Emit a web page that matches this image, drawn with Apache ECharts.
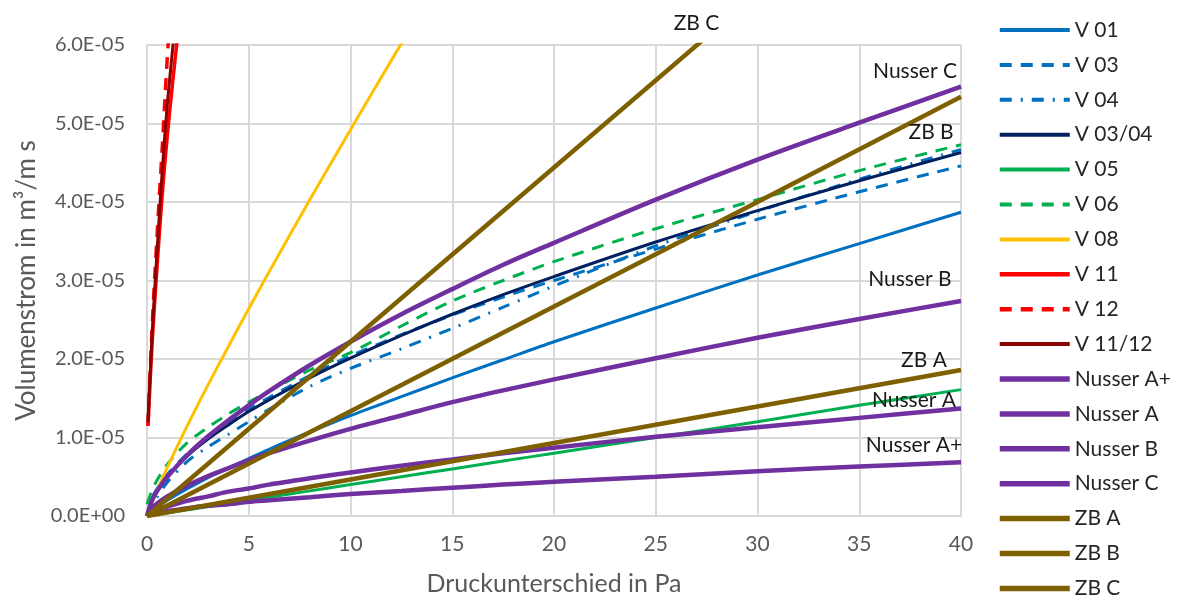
<!DOCTYPE html>
<html>
<head>
<meta charset="utf-8">
<script src="https://cdn.jsdelivr.net/npm/echarts@6/dist/echarts.min.js"></script>
<style>html,body{margin:0;padding:0;background:#fff;}#chart{width:1179px;height:601px;}</style>
</head>
<body>
<div id="chart"></div>
<script>
// values in units of 1E-5 m³/m s
const SCALE = 1e-5;
const pressure = [0, 0.25, 0.5, 1, 2, 3, 4, 5, 6, 8, 10, 12.5, 15, 17.5, 20, 25, 30, 35, 40];
const v01   = [0, 0.07, 0.12, 0.20, 0.35, 0.49, 0.61, 0.73, 0.85, 1.07, 1.28, 1.52, 1.76, 1.99, 2.22, 2.65, 3.07, 3.47, 3.87];
const v03   = [0, 0.23, 0.35, 0.53, 0.80, 1.01, 1.19, 1.36, 1.51, 1.79, 2.04, 2.31, 2.56, 2.79, 3.00, 3.40, 3.78, 4.13, 4.46];
const v04   = [0, 0.14, 0.24, 0.43, 0.70, 0.88, 1.04, 1.20, 1.36, 1.65, 1.88, 2.13, 2.39, 2.66, 2.93, 3.44, 3.88, 4.29, 4.67];
const v0304 = [0, 0.22, 0.33, 0.51, 0.77, 0.98, 1.16, 1.33, 1.48, 1.76, 2.01, 2.30, 2.57, 2.82, 3.05, 3.49, 3.89, 4.27, 4.63];
const v05   = [0, 0.01, 0.02, 0.04, 0.08, 0.12, 0.16, 0.20, 0.24, 0.32, 0.40, 0.50, 0.60, 0.70, 0.80, 1.00, 1.20, 1.41, 1.61];
const v06   = [0.15, 0.33, 0.46, 0.66, 0.94, 1.13, 1.30, 1.45, 1.59, 1.86, 2.08, 2.42, 2.74, 3.00, 3.24, 3.66, 4.03, 4.40, 4.73];
const nusserAplus = [0, 0.025, 0.04, 0.06, 0.10, 0.13, 0.15, 0.18, 0.20, 0.24, 0.28, 0.32, 0.36, 0.40, 0.435, 0.50, 0.57, 0.63, 0.685];
const nusserA = [0, 0.05, 0.08, 0.12, 0.195, 0.25, 0.31, 0.35, 0.40, 0.48, 0.555, 0.64, 0.72, 0.80, 0.87, 1.01, 1.13, 1.25, 1.37];
const nusserB = [0, 0.10, 0.16, 0.25, 0.39, 0.51, 0.61, 0.71, 0.80, 0.96, 1.11, 1.28, 1.45, 1.60, 1.74, 2.01, 2.27, 2.51, 2.74];
const nusserC = [0, 0.20, 0.32, 0.50, 0.78, 1.015, 1.22, 1.41, 1.59, 1.92, 2.22, 2.57, 2.89, 3.20, 3.48, 4.03, 4.54, 5.01, 5.47];
const pressureV08 = [0, 0.25, 0.5, 1, 2, 3, 4, 5, 6, 8, 10, 12.5, 15];
const v08 = [0, 0.18, 0.33, 0.62, 1.16, 1.67, 2.16, 2.64, 3.11, 4.03, 4.92, 6.02, 7.09];
const pressureV11 = [0.05, 0.25, 0.5, 0.75, 1.0, 1.25, 1.5, 2.0];
const v11 = [1.15, 2.2, 3.2, 4.1, 4.85, 5.5, 6.1, 7.2];
const pressureV12 = [0.05, 0.25, 0.5, 0.75, 1.0, 1.25];
const v12 = [1.15, 2.4, 3.6, 4.7, 5.85, 6.8];
const pressureV1112 = [0.05, 0.25, 0.5, 0.75, 1.0, 1.28, 1.5];
const v1112 = [1.2, 2.3, 3.4, 4.4, 5.25, 6.0, 6.55];
const pressureZB = [0, 10, 20, 30, 40];
const zbA = [0, 0.465, 0.93, 1.395, 1.86];
const zbB = [0, 1.335, 2.67, 4.0, 5.34];
const zbC = [0, 2.22, 4.44, 6.66, 8.88];
const xTicks = [0, 5, 10, 15, 20, 25, 30, 35, 40];
const yTicks = [0, 1, 2, 3, 4, 5, 6];
// data labels: [text, pressure, value]
const labelsAt = [
  ['ZB C', 27.0, 6.28],
  ['Nusser C', 37.74, 5.66],
  ['ZB B', 38.53, 4.89],
  ['Nusser B', 37.49, 3.01],
  ['ZB A', 38.18, 1.99],
  ['Nusser A', 37.69, 1.48],
  ['Nusser A+', 37.69, 0.90]
];

const FONT = 'Lato';
const BLUE = '#0070C0', NAVY = '#002060', GREEN = '#00B050', YELLOW = '#FFC000',
      RED = '#FF0000', DARKRED = '#8B0000', PURPLE = '#7030A0', BROWN = '#7F6000';

function mk(name, xs, ys, color, width, type, smooth) {
  return {
    name: name, type: 'line', showSymbol: false, symbol: 'none',
    smooth: smooth === undefined ? 0.3 : smooth,
    data: xs.map((x, i) => [x, ys[i] * SCALE]),
    lineStyle: { color: color, width: width, type: type || 'solid' },
    itemStyle: { color: color },
    emphasis: { disabled: true },
    clip: true
  };
}

const series = [
  mk('V 01', pressure, v01, BLUE, 3),
  mk('V 03', pressure, v03, BLUE, 3, [12, 9]),
  mk('V 04', pressure, v04, BLUE, 3, [12, 9, 2, 9]),
  mk('V 03/04', pressure, v0304, NAVY, 3),
  mk('V 05', pressure, v05, GREEN, 3),
  mk('V 06', pressure, v06, GREEN, 3, [12, 9]),
  mk('V 08', pressureV08, v08, YELLOW, 3),
  mk('V 11', pressureV11, v11, RED, 3.5),
  mk('V 12', pressureV12, v12, RED, 3.5, [12, 9]),
  mk('V 11/12', pressureV1112, v1112, DARKRED, 3),
  mk('Nusser A+', pressure, nusserAplus, PURPLE, 4.5),
  mk('Nusser A', pressure, nusserA, PURPLE, 4.5),
  mk('Nusser B', pressure, nusserB, PURPLE, 4.5),
  mk('Nusser C', pressure, nusserC, PURPLE, 4.5),
  mk('ZB A', pressureZB, zbA, BROWN, 4.5, 'solid', false),
  mk('ZB B', pressureZB, zbB, BROWN, 4.5, 'solid', false),
  mk('ZB C', pressureZB, zbC, BROWN, 4.5, 'solid', false)
];

function fmtE(v) {
  if (Math.abs(v) < 1e-15) return '0.0E+00';
  let e = Math.floor(Math.log10(Math.abs(v)) + 1e-9);
  let m = v / Math.pow(10, e);
  let s = e < 0 ? '-' : '+';
  let ea = Math.abs(e);
  return m.toFixed(1) + 'E' + s + (ea < 10 ? '0' : '') + ea;
}

const chart = echarts.init(document.getElementById('chart'), null, { renderer: 'canvas' });
chart.setOption({
  animation: false,
  backgroundColor: '#ffffff',
  textStyle: { fontFamily: FONT },
  grid: { left: 147, right: 218, top: 45, bottom: 82, containLabel: false },
  xAxis: {
    type: 'value', min: xTicks[0], max: xTicks[xTicks.length - 1], interval: xTicks[1] - xTicks[0],
    name: 'Druckunterschied in Pa', nameLocation: 'middle', nameGap: 55,
    nameTextStyle: { fontFamily: FONT, fontSize: 25, color: '#595959' },
    axisLine: { show: true, lineStyle: { color: '#D9D9D9', width: 2 } },
    axisTick: { show: false },
    axisLabel: { fontFamily: FONT, fontSize: 21, color: '#595959', margin: 18 },
    splitLine: { show: true, lineStyle: { color: '#D9D9D9', width: 2 } }
  },
  yAxis: {
    type: 'value', min: yTicks[0] * SCALE, max: yTicks[yTicks.length - 1] * SCALE, interval: (yTicks[1] - yTicks[0]) * SCALE,
    name: 'Volumenstrom in m³/m s', nameLocation: 'middle', nameGap: 106, nameRotate: 90,
    nameTextStyle: { fontFamily: FONT, fontSize: 26, color: '#595959' },
    axisLine: { show: true, lineStyle: { color: '#D9D9D9', width: 2 } },
    axisTick: { show: false },
    axisLabel: { fontFamily: FONT, fontSize: 20, color: '#595959', margin: 22, formatter: fmtE },
    splitLine: { show: true, lineStyle: { color: '#D9D9D9', width: 2 } }
  },
  legend: {
    orient: 'vertical', left: 992, top: 13, height: 588,
    itemWidth: 70, itemHeight: 14, itemGap: 10.9,
    itemStyle: { opacity: 0 },
    textStyle: { fontFamily: FONT, fontSize: 21, color: '#262626', lineHeight: 24 },
    data: series.map(s => ({ name: s.name, lineStyle: { width: s.lineStyle.width + 1 } })),
    selectedMode: false
  },
  series: series
});

const g = labelsAt.map(l => {
  const p = chart.convertToPixel({ gridIndex: 0 }, [l[1], l[2] * SCALE]);
  return {
    type: 'text', x: p[0], y: p[1], z: 100,
    style: { text: l[0], fontFamily: FONT, fontSize: 21, fill: '#1a1a1a', align: 'center', verticalAlign: 'middle' }
  };
});
chart.setOption({ graphic: g });
</script>
</body>
</html>
